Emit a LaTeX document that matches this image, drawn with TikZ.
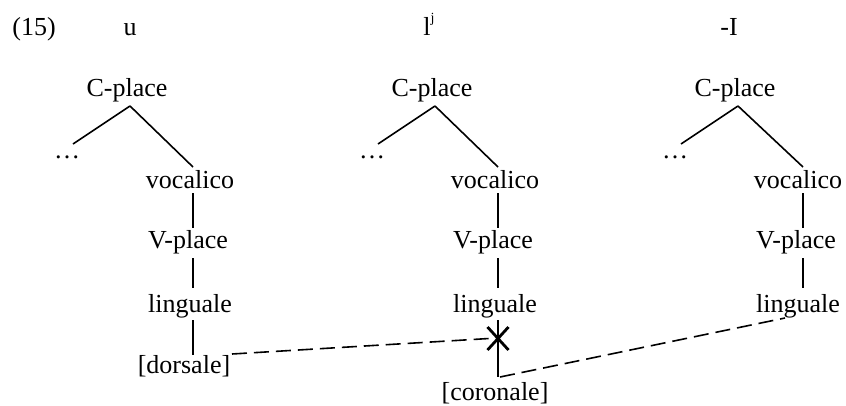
\documentclass[tikz,border=0pt]{standalone}
\usepackage{fontspec}
\setmainfont{Liberation Serif}
\begin{document}
\begin{tikzpicture}[x=1pt,y=-1pt,
  lbl/.style={inner sep=0pt,outer sep=0pt,anchor=base,font=\fontsize{26}{30}\selectfont},
  branch/.style={line width=1.6pt},
  assoc/.style={line width=1.6pt,dash pattern=on 15pt off 7pt},
  cut/.style={line width=2.8pt}]
\useasboundingbox (0,0) rectangle (846,405);
% headings
\node[lbl] (num) at (34,35) {(15)};
\node[lbl] (hu) at (130,35) {u};
\node[lbl] (hl) at (429,35) {l\raisebox{0.5em}{\fontsize{14}{14}\selectfont j}};
\node[lbl] (hi) at (729,35) {-I};
% tree nodes and branches
\foreach \t/\dx/\s in {1/0/3,2/305/3,3/608/5}{
  \node[lbl] (cp\t) at (127+\dx,96) {C-place};
  \node[lbl] (dots\t) at (67+\dx,158) {…};
  \node[lbl] (voc\t) at (190+\dx,188) {vocalico};
  \node[lbl] (vp\t) at (188+\dx,248) {V-place};
  \node[lbl] (ling\t) at (190+\dx,312) {linguale};
  \draw[branch] ([shift={(3,10)}]cp\t.base) -- ([shift={(6,-14)}]dots\t.base);
  \draw[branch] ([shift={(3,10)}]cp\t.base) -- ([shift={(\s,-21)}]voc\t.base);
  \draw[branch] ([shift={(\s,5)}]voc\t.base) -- ([shift={(\s+2,-20)}]vp\t.base);
  \draw[branch] ([shift={(\s+2,10)}]vp\t.base) -- ([shift={(\s,-24)}]ling\t.base);
}
\node[lbl] (dors) at (184,373) {[dorsale]};
\node[lbl] (cor) at (495,400) {[coronale]};
\draw[branch] ([shift={(3,8)}]ling1.base) -- ([shift={(9,-18)}]dors.base);
\draw[branch] ([shift={(3,8)}]ling2.base) -- ([shift={(3,-23)}]cor.base);
% cut mark
\coordinate (xc) at (498,338.5);
\draw[cut] ([shift={(-10.5,-11.5)}]xc) -- ([shift={(10.5,11.5)}]xc)
           ([shift={(10.5,-11.5)}]xc) -- ([shift={(-10.5,11.5)}]xc);
% association lines
\draw[assoc] ([shift={(48,-19)}]dors.base) -- ([shift={(-9,0)}]xc);
\draw[assoc] ([shift={(5,-23)}]cor.base) -- ([shift={(-13,6)}]ling3.base);
\end{tikzpicture}
\end{document}
